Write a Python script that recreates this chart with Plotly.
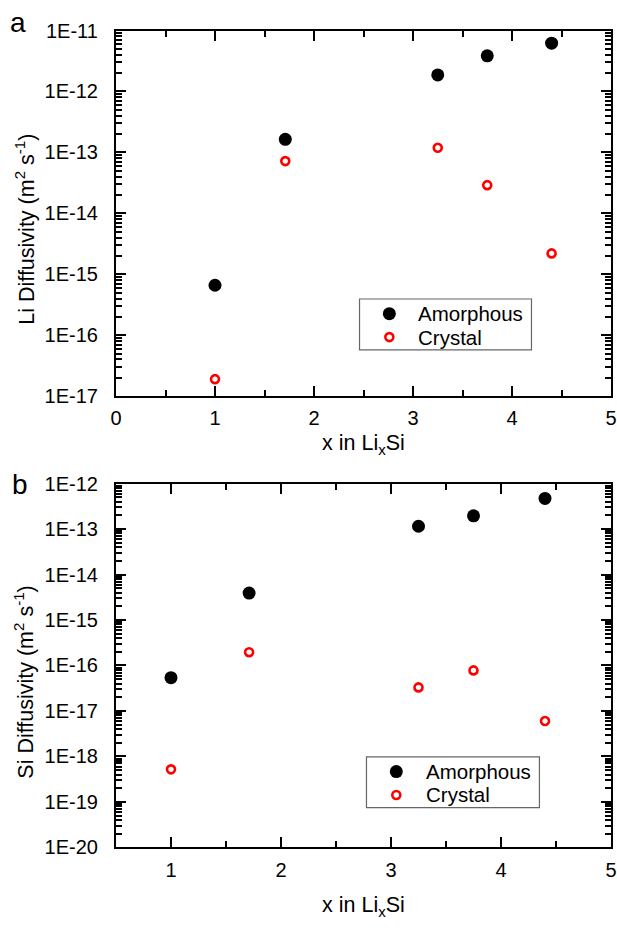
import plotly.graph_objects as go

# Composition x in LixSi
x_li = [1.0, 1.71, 3.25, 3.75, 4.4]

# Li diffusivity (m^2/s)
li_amorphous = [6.6e-16, 1.64e-13, 1.87e-12, 3.85e-12, 6.2e-12]
li_crystal = [1.9e-17, 7.2e-14, 1.19e-13, 2.9e-14, 2.2e-15]

# Si diffusivity (m^2/s)
si_amorphous = [5.4e-17, 3.9e-15, 1.15e-13, 1.95e-13, 4.7e-13]
si_crystal = [5.2e-19, 1.96e-16, 3.3e-17, 7.8e-17, 6.0e-18]

series_names = ["Amorphous", "Crystal"]

# Axis tick labels
top_exponents = [-17, -16, -15, -14, -13, -12, -11]
bot_exponents = [-20, -19, -18, -17, -16, -15, -14, -13, -12]
top_ticktext = ["1E-17", "1E-16", "1E-15", "1E-14", "1E-13", "1E-12", "1E-11"]
bot_ticktext = ["1E-20", "1E-19", "1E-18", "1E-17", "1E-16", "1E-15", "1E-14", "1E-13", "1E-12"]

FONT = "Liberation Sans, Arial, sans-serif"
W, H = 617, 929
PLOT_L, PLOT_R = 116, 614

AMOR_COLOR = "black"
CRYST_COLOR = "#ff0000"


def decade_vals(exps):
    return [10.0 ** e for e in exps]


fig = go.Figure()

amor_style = dict(mode="markers", showlegend=False,
                  marker=dict(symbol="circle", size=13, color=AMOR_COLOR))
cryst_style = dict(mode="markers", showlegend=False,
                   marker=dict(symbol="circle-open", size=8, color=CRYST_COLOR,
                               line=dict(width=2.6, color=CRYST_COLOR)))

fig.add_trace(go.Scatter(x=x_li, y=li_amorphous, name=series_names[0], xaxis="x", yaxis="y", **amor_style))
fig.add_trace(go.Scatter(x=x_li, y=li_crystal, name=series_names[1], xaxis="x", yaxis="y", **cryst_style))
fig.add_trace(go.Scatter(x=x_li, y=si_amorphous, name=series_names[0], xaxis="x2", yaxis="y2", **amor_style))
fig.add_trace(go.Scatter(x=x_li, y=si_crystal, name=series_names[1], xaxis="x2", yaxis="y2", **cryst_style))

# plot-area pixel extents (top, bottom)
top_px = (20, 394.5)
bot_px = (484, 856.7)


def dom(px):
    return [1 - px[1] / H, 1 - px[0] / H]


def px_x(p):
    return (p - PLOT_L) / (PLOT_R - PLOT_L)


def px_y(p):
    return 1 - p / H


axis_common = dict(
    showline=True, linewidth=2.2, linecolor="black", mirror="allticks",
    ticks="inside", ticklen=10, tickwidth=2, tickcolor="black",
    showgrid=False, zeroline=False, ticklabeloverflow="allow",
    tickfont=dict(family=FONT, size=20, color="black"),
)
minor_x = dict(ticks="inside", dtick=0.5, tick0=0, ticklen=6, tickwidth=2, tickcolor="black")
# log axes: minor ticks at 2..9 within each decade
minor_y = dict(ticks="inside", dtick="D1", ticklen=6, tickwidth=1.6, tickcolor="black")

fig.update_layout(
    width=W, height=H,
    margin=dict(l=PLOT_L, r=W - PLOT_R, t=0, b=0),
    paper_bgcolor="white", plot_bgcolor="white",
    font=dict(family=FONT, color="black"),
    showlegend=False,
    xaxis=dict(domain=[0, 1], anchor="y", range=[0, 5], dtick=1, tick0=0,
               minor=minor_x, ticklabelstandoff=3, **axis_common),
    yaxis=dict(domain=dom(top_px), anchor="x", type="log", range=[-17, -11], dtick=1,
               tickvals=decade_vals(top_exponents), ticktext=top_ticktext, tickmode="array",
               minor=minor_y, ticklabelstandoff=12, **axis_common),
    xaxis2=dict(domain=[0, 1], anchor="y2", range=[0.5, 5], dtick=1, tick0=0,
                minor=minor_x, ticklabelstandoff=3, **axis_common),
    yaxis2=dict(domain=dom(bot_px), anchor="x2", type="log", range=[-20, -12], dtick=1,
                tickvals=decade_vals(bot_exponents), ticktext=bot_ticktext, tickmode="array",
                minor=minor_y, ticklabelstandoff=12, **axis_common),
)

annotations = [
    # panel letters
    dict(text="a", x=0, y=px_y(12), xref="paper", yref="paper", xshift=-(PLOT_L - 18),
         showarrow=False, font=dict(family=FONT, size=28, color="black"),
         xanchor="center", yanchor="middle"),
    dict(text="b", x=0, y=px_y(485), xref="paper", yref="paper", xshift=-(PLOT_L - 20),
         showarrow=False, font=dict(family=FONT, size=28, color="black"),
         xanchor="center", yanchor="middle"),
    # y-axis titles
    dict(text="Li Diffusivity (m<sup>2</sup> s<sup>-1</sup>)", x=0, y=px_y(224),
         xref="paper", yref="paper", xshift=-(PLOT_L - 25), textangle=-90,
         showarrow=False, font=dict(family=FONT, size=21.5, color="black"),
         xanchor="center", yanchor="middle"),
    dict(text="Si Diffusivity (m<sup>2</sup> s<sup>-1</sup>)", x=0, y=px_y(688),
         xref="paper", yref="paper", xshift=-(PLOT_L - 24), textangle=-90,
         showarrow=False, font=dict(family=FONT, size=21.5, color="black"),
         xanchor="center", yanchor="middle"),
    # x-axis titles
    dict(text="x in Li<sub>x</sub>Si", x=0.5, y=px_y(444), xref="paper", yref="paper",
         showarrow=False, font=dict(family=FONT, size=21.5, color="black"),
         xanchor="center", yanchor="middle"),
    dict(text="x in Li<sub>x</sub>Si", x=0.5, y=px_y(917), xref="paper", yref="paper",
         showarrow=False, font=dict(family=FONT, size=21.5, color="black"),
         xanchor="center", yanchor="middle"),
]

shapes = []


def add_key(box, marker_x, rows, text_x):
    """Boxed key with a filled and an open circle glyph plus series names."""
    x0, x1, y0, y1 = box
    shapes.append(dict(type="rect", xref="paper", yref="paper",
                       x0=px_x(x0), x1=px_x(x1), y0=px_y(y1), y1=px_y(y0),
                       line=dict(color="#666666", width=1.2), fillcolor="white", layer="above"))
    # filled circle glyph
    shapes.append(dict(type="circle", xref="paper", yref="paper",
                       xsizemode="pixel", ysizemode="pixel",
                       xanchor=px_x(marker_x), yanchor=px_y(rows[0]),
                       x0=-6.5, x1=6.5, y0=-6.5, y1=6.5,
                       fillcolor=AMOR_COLOR, line=dict(width=0), layer="above"))
    # open circle glyph
    shapes.append(dict(type="circle", xref="paper", yref="paper",
                       xsizemode="pixel", ysizemode="pixel",
                       xanchor=px_x(marker_x), yanchor=px_y(rows[1]),
                       x0=-4, x1=4, y0=-4, y1=4,
                       fillcolor="white", line=dict(width=2.6, color=CRYST_COLOR), layer="above"))
    for name, ry in zip(series_names, rows):
        annotations.append(dict(text=name, x=px_x(text_x), y=px_y(ry), xref="paper", yref="paper",
                                showarrow=False, xanchor="left", yanchor="middle",
                                font=dict(family=FONT, size=20.5, color="black")))


add_key((361, 534, 295, 347), 391, (310, 334), 418)
add_key((368, 542, 764, 816), 398, (779, 803), 426)

fig.update_layout(annotations=annotations, shapes=shapes)

fig.write_html("out.html")
